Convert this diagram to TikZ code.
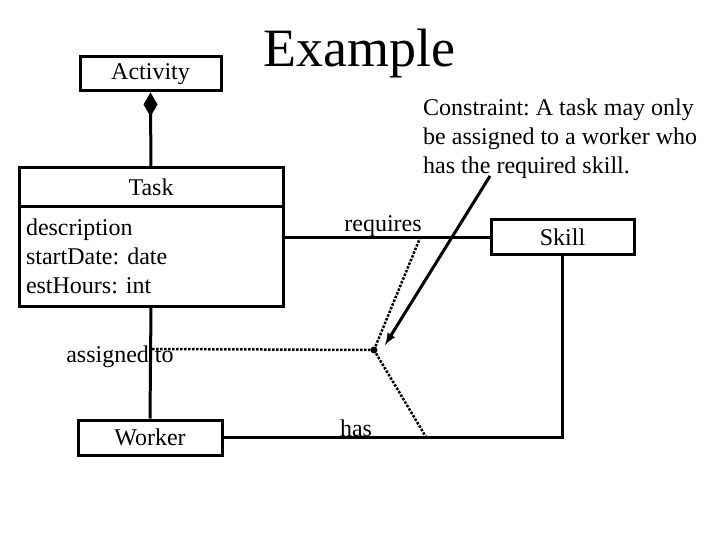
\documentclass[tikz,border=0pt]{standalone}
\usepackage{fontspec}
\setmainfont{Liberation Serif}
\usetikzlibrary{shapes.geometric}
\frenchspacing
\tikzset{
  cls/.style={draw, line width=3pt, inner sep=0pt, font=\fontsize{24}{29}\selectfont},
  assoc/.style={line width=3pt},
  link/.style={line width=2.5pt, dash pattern=on 2.5pt off 1.5pt},
  lbl/.style={font=\fontsize{24}{29}\selectfont, inner sep=0pt},
}
\begin{document}
\begin{tikzpicture}[x=1pt,y=-1pt]
\useasboundingbox (0,0) rectangle (720,540);
% title
\node[font=\fontsize{54}{60}\selectfont, anchor=base, inner sep=0pt] (title) at (359,67) {Example};
% classes
\node[cls, minimum width=141pt, minimum height=34pt] (act) at (150.5,74) {Activity};
\node[cls, minimum width=264pt, minimum height=39pt] (taskhead) at (151,187.5) {Task};
\node[cls, minimum width=264pt, minimum height=99pt, text width=250pt, align=left] (taskbody) at (151,256.5)
  {description\\startDate: date\\estHours: int};
\node[cls, minimum width=143pt, minimum height=34pt] (skill) at (562.5,237) {Skill};
\node[cls, minimum width=144pt, minimum height=35pt] (worker) at (150,437.5) {Worker};
% associations
\draw[assoc] (act.south |- 0,104) coordinate (diac) -- (taskhead.north);
\node[diamond, fill, inner sep=0pt, outer sep=0pt, minimum width=14pt, minimum height=24pt, anchor=north] (dia) at (act.south) {};
\draw[assoc] (taskbody.east |- skill.west) -- (skill.west);
\draw[assoc] (skill.south) |- (worker.east);
\draw[assoc] (taskbody.south) -- (worker.north);
\node[lbl] (req) at (383,226) {requires};
\node[lbl] (has) at (356,428) {has};
\node[lbl] (asg) at (120,357) {assigned to};
% constraint links
\node[circle, fill, inner sep=0pt, minimum size=7pt] (jn) at (374,350) {};
\coordinate (asgpt) at (152,349);
\coordinate (reqpt) at (420,238);
\coordinate (haspt) at (426,437);
\draw[link] (asgpt) -- (jn.center);
\draw[link] (jn.center) -- (reqpt);
\draw[link] (jn.center) -- (haspt);
% note
\node[lbl, align=left, anchor=west] (note) at (423,139)
  {Constraint: A task may only\\be assigned to a worker who\\has the required skill.};
\coordinate (nstart) at (490,176);
\coordinate (ntip) at (385,345);
\draw[assoc, -latex] (nstart) -- (ntip);
\end{tikzpicture}
\end{document}
